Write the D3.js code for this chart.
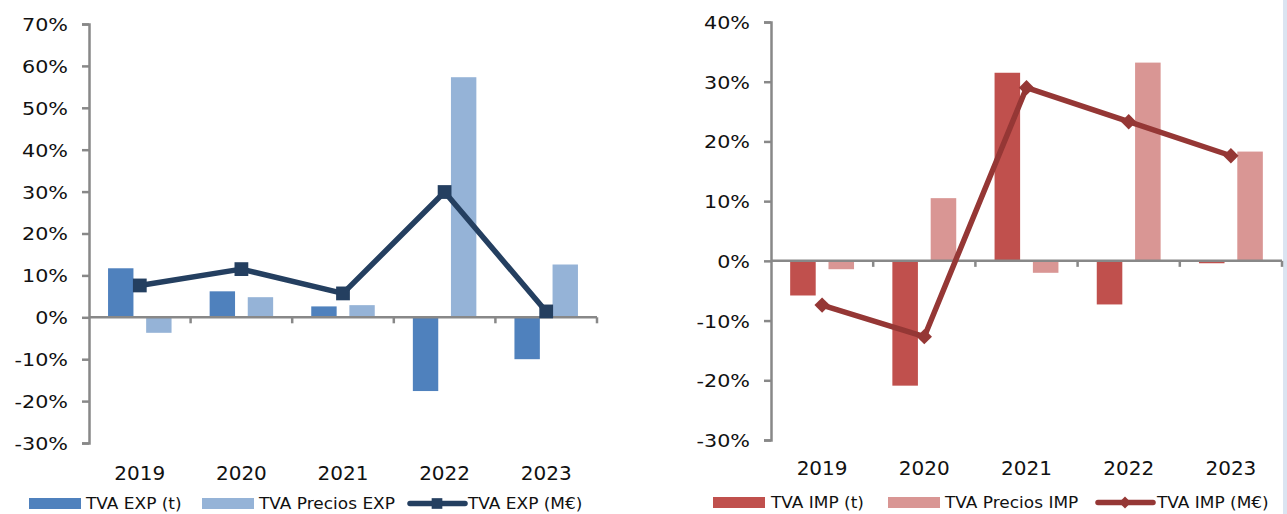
<!DOCTYPE html>
<html>
<head>
<meta charset="utf-8">
<script src="https://cdn.jsdelivr.net/npm/d3@7"></script>
<style>
  body { margin: 0; background: #fff; }
  svg text { font-family: "DejaVu Sans", Verdana, sans-serif; fill: #111; }
</style>
</head>
<body>
<div id="chart"></div>
<script>
// categories
var years = ["2019", "2020", "2021", "2022", "2023"];

// exports (left chart)
var expTons   = [0.117, 0.062, 0.026, -0.176, -0.100];
var expPrices = [-0.037, 0.048, 0.029, 0.573, 0.126];
var expValue  = [0.076, 0.115, 0.057, 0.299, 0.014];

// imports (right chart)
var impTons   = [-0.058, -0.209, 0.315, -0.073, -0.004];
var impPrices = [-0.014, 0.105, -0.020, 0.332, 0.183];
var impValue  = [-0.074, -0.127, 0.290, 0.233, 0.176];

// y axis tick values
var expTicks = [-0.3, -0.2, -0.1, 0, 0.1, 0.2, 0.3, 0.4, 0.5, 0.6, 0.7];
var impTicks = [-0.3, -0.2, -0.1, 0, 0.1, 0.2, 0.3, 0.4];

var svg = d3.select("#chart").append("svg")
    .attr("width", 1287)
    .attr("height", 514);

// light strip at the right edge of the picture
svg.append("rect")
    .attr("x", 1283).attr("y", 0)
    .attr("width", 4).attr("height", 514)
    .attr("fill", "#dbe4f1");

// verdana is wider than dejavu for letters and "%", stretch a bit
function wideText(sel, x, y, sx) {
    sel.attr("x", 0).attr("y", 0)
        .attr("transform", "translate(" + x + "," + y + ") scale(" + sx + ",1)");
}

function drawPanel(opt) {
    var g = svg.append("g");

    var x = d3.scaleBand().domain(years).range([opt.x0, opt.x1]);
    var xs = d3.scaleBand().domain([0, 1]).range([0, x.bandwidth()])
        .paddingInner(1 / 3).paddingOuter(0.5);
    var y = d3.scaleLinear().domain(opt.domain).range([opt.yBottom, opt.yTop]);

    // y axis
    var yAxis = g.append("g")
        .attr("transform", "translate(" + opt.x0 + ",0)")
        .call(d3.axisLeft(y).tickValues(opt.ticks).tickSize(7).tickPadding(14));
    yAxis.select(".domain").attr("stroke", "#888").attr("stroke-width", 2.5);
    yAxis.selectAll(".tick line").attr("stroke", "#888").attr("stroke-width", 2.5);
    yAxis.selectAll(".tick text")
        .attr("font-size", 18)
        .attr("font-family", "DejaVu Sans, Verdana, sans-serif")
        .attr("fill", "#111")
        .attr("dy", "0.36em")
        .text(function (d) { return d3.format(".0%")(d).replace("−", "-"); })
        .each(function () { wideText(d3.select(this), -21, 0, 1.15); });

    // bars
    var series = [
        {vals: opt.tons, color: opt.c1},
        {vals: opt.prices, color: opt.c2}
    ];
    series.forEach(function (s, i) {
        g.selectAll(".bar" + i)
            .data(years)
            .enter().append("rect")
            .attr("x", function (d) { return x(d) + xs(i); })
            .attr("width", xs.bandwidth())
            .attr("y", function (d, j) { return y(Math.max(0, s.vals[j])); })
            .attr("height", function (d, j) { return Math.abs(y(s.vals[j]) - y(0)); })
            .attr("fill", s.color);
    });

    // x axis along zero
    g.append("line")
        .attr("x1", opt.x0).attr("x2", opt.x1)
        .attr("y1", y(0)).attr("y2", y(0))
        .attr("stroke", "#888").attr("stroke-width", 2.5);
    g.selectAll(".xtick")
        .data(years)
        .enter().append("line")
        .attr("x1", function (d) { return x(d) + x.bandwidth(); })
        .attr("x2", function (d) { return x(d) + x.bandwidth(); })
        .attr("y1", y(0)).attr("y2", y(0) + 6)
        .attr("stroke", "#888").attr("stroke-width", 2.5);

    // category labels
    g.selectAll(".xlab")
        .data(years)
        .enter().append("text")
        .attr("x", function (d) { return x(d) + x.bandwidth() / 2; })
        .attr("y", opt.labelY)
        .attr("text-anchor", "middle")
        .attr("font-size", 20)
        .text(function (d) { return d; });

    // line series
    var line = d3.line()
        .x(function (d, i) { return x(years[i]) + x.bandwidth() / 2; })
        .y(function (d) { return y(d); });
    g.append("path")
        .datum(opt.value)
        .attr("d", line)
        .attr("fill", "none")
        .attr("stroke", opt.c3)
        .attr("stroke-width", 5.5)
        .attr("stroke-linejoin", "round");
    g.selectAll(".mk")
        .data(opt.value)
        .enter().append("path")
        .attr("transform", function (d, i) {
            return "translate(" + (x(years[i]) + x.bandwidth() / 2) + "," + y(d) + ")";
        })
        .attr("d", d3.symbol().type(opt.symbol).size(opt.symbolSize))
        .attr("fill", opt.c3);

    // legend
    var lg = g.append("g");
    var L = opt.legend;
    lg.append("rect").attr("x", L.s1).attr("y", L.y - 11).attr("width", 52).attr("height", 11).attr("fill", opt.c1);
    lg.append("text").attr("font-size", 15).text(opt.names[0]).call(wideText, L.t1, L.y, 1.13);
    lg.append("rect").attr("x", L.s2).attr("y", L.y - 11).attr("width", 52).attr("height", 11).attr("fill", opt.c2);
    lg.append("text").attr("font-size", 15).text(opt.names[1]).call(wideText, L.t2, L.y, 1.13);
    lg.append("line").attr("x1", L.s3).attr("x2", L.s3 + 55)
        .attr("y1", L.y - 5.5).attr("y2", L.y - 5.5)
        .attr("stroke", opt.c3).attr("stroke-width", 5.5).attr("stroke-linecap", "round");
    lg.append("path")
        .attr("transform", "translate(" + (L.s3 + 27) + "," + (L.y - 5.5) + ")")
        .attr("d", d3.symbol().type(opt.symbol).size(opt.symbolSize * 0.6))
        .attr("fill", opt.c3);
    lg.append("text").attr("font-size", 15).text(opt.names[2]).call(wideText, L.t3, L.y, 1.13);
}

drawPanel({
    x0: 89, x1: 597,
    yTop: 24, yBottom: 443,
    domain: [-0.3, 0.7],
    ticks: expTicks,
    tons: expTons, prices: expPrices, value: expValue,
    c1: "#4f81bd", c2: "#95b3d7", c3: "#243f60",
    symbol: d3.symbolSquare, symbolSize: 190,
    labelY: 480,
    names: ["TVA EXP (t)", "TVA Precios EXP", "TVA EXP (M€)"],
    legend: {y: 509, s1: 29, t1: 86, s2: 202, t2: 259, s3: 410, t3: 468}
});

drawPanel({
    x0: 771, x1: 1282,
    yTop: 22, yBottom: 440,
    domain: [-0.3, 0.4],
    ticks: impTicks,
    tons: impTons, prices: impPrices, value: impValue,
    c1: "#c0504d", c2: "#d99694", c3: "#953735",
    symbol: d3.symbolDiamond2, symbolSize: 150,
    labelY: 475,
    names: ["TVA IMP (t)", "TVA Precios IMP", "TVA IMP (M€)"],
    legend: {y: 508, s1: 713, t1: 771, s2: 888, t2: 945, s3: 1098, t3: 1157}
});
</script>
</body>
</html>
